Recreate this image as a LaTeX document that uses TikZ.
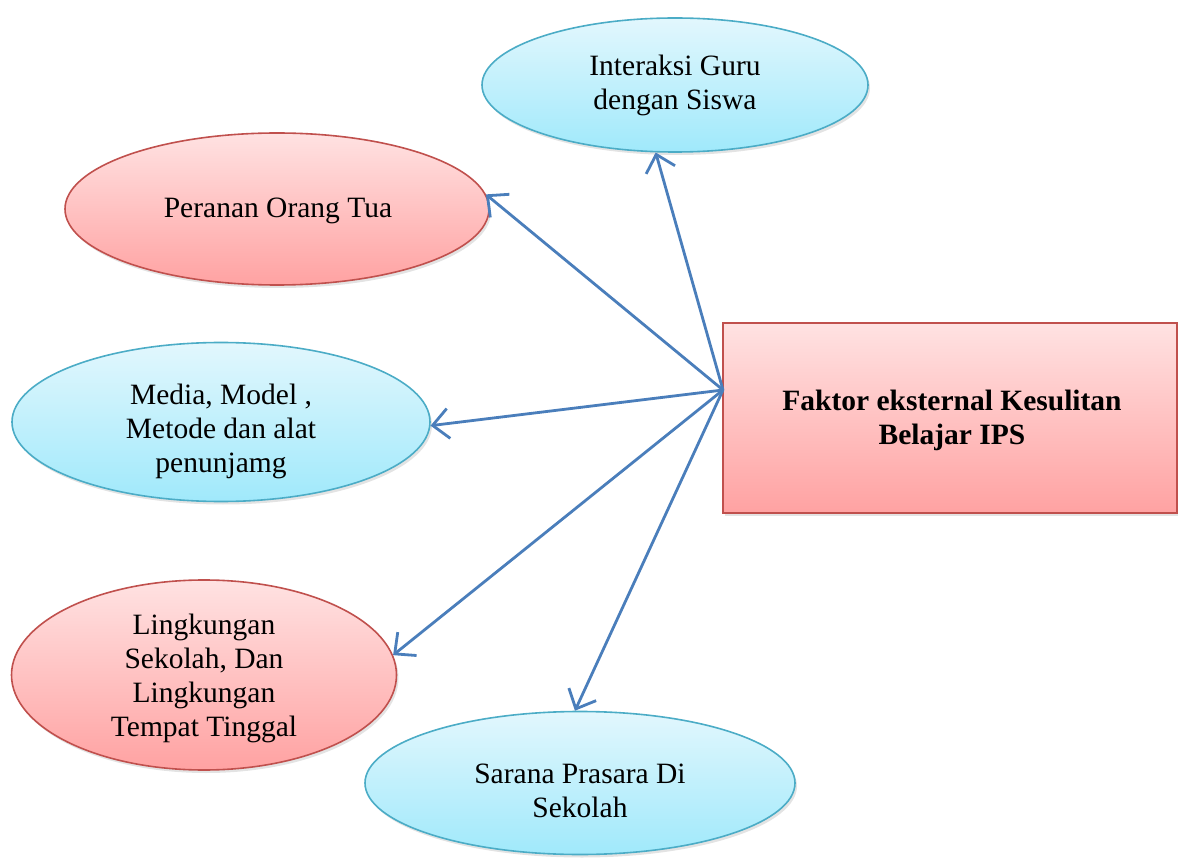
\documentclass[tikz,border=0pt]{standalone}
\usepackage{fontspec}
\setmainfont{Liberation Serif}
\usetikzlibrary{shapes.geometric,shadows,arrows.meta}
\definecolor{cyantop}{HTML}{E2F7FD}
\definecolor{cyanbot}{HTML}{A0E9FB}
\definecolor{cyanline}{HTML}{4BACC6}
\definecolor{redtop}{HTML}{FFE2E2}
\definecolor{redbot}{HTML}{FFA2A2}
\definecolor{redline}{HTML}{C0504D}
\definecolor{arrowblue}{HTML}{4A7EBB}
\tikzset{
  softshadow/.style={drop shadow={opacity=0.22,shadow xshift=2pt,shadow yshift=-3pt}},
  cyanell/.style={ellipse,draw=cyanline,line width=1.6pt,top color=cyantop,bottom color=cyanbot,softshadow,inner sep=0pt},
  redell/.style={ellipse,draw=redline,line width=1.6pt,top color=redtop,bottom color=redbot,softshadow,inner sep=0pt},
  redbox/.style={rectangle,draw=redline,line width=1.6pt,top color=redtop,bottom color=redbot,softshadow,inner sep=0pt},
  txt/.style={align=center,font=\fontsize{29.5}{34}\selectfont,inner sep=0pt},
  conn/.style={draw=arrowblue,line width=2.8pt,-{Straight Barb[length=16pt,width=30pt,line width=2.8pt]}}
}
\begin{document}
\begin{tikzpicture}[x=1pt,y=-1pt]
\useasboundingbox (0,0) rectangle (1178,866);
% shapes
\node[cyanell,minimum width=386pt,minimum height=134pt] (guru) at (675,85) {};
\node[redell,minimum width=424pt,minimum height=152pt] (ortu) at (277,209) {};
\node[cyanell,minimum width=418pt,minimum height=159pt] (media) at (221,422) {};
\node[redell,minimum width=385pt,minimum height=190pt] (ling) at (204,675) {};
\node[cyanell,minimum width=430pt,minimum height=143pt] (sarana) at (580,783) {};
\node[redbox,minimum width=454pt,minimum height=190pt] (fk) at (950,418) {};
% texts
\node[txt] (tguru) at (675,85) {Interaksi Guru\\dengan Siswa};
\node[txt] (tortu) at (278,211) {Peranan Orang Tua};
\node[txt] (tmedia) at (221,431) {Media, Model ,\\Metode dan alat\\penunjamg};
\node[txt] (tling) at (204,678) {Lingkungan\\Sekolah, Dan\\Lingkungan\\Tempat Tinggal};
\node[txt] (tsarana) at (580,791) {Sarana Prasara Di\\Sekolah};
\node[txt,font=\fontsize{29.5}{34}\selectfont\bfseries] (tfk) at (952,420) {Faktor eksternal Kesulitan\\Belajar IPS};
% connectors
\coordinate (src) at (723,390);
\draw[conn] (src) -- (guru.-106);
\draw[conn] (src) -- (ortu.4);
\draw[conn] (src) -- (media.-1);
\draw[conn] (src) -- (ling.6);
\draw[conn] (src) -- (sarana.94);
\end{tikzpicture}
\end{document}
